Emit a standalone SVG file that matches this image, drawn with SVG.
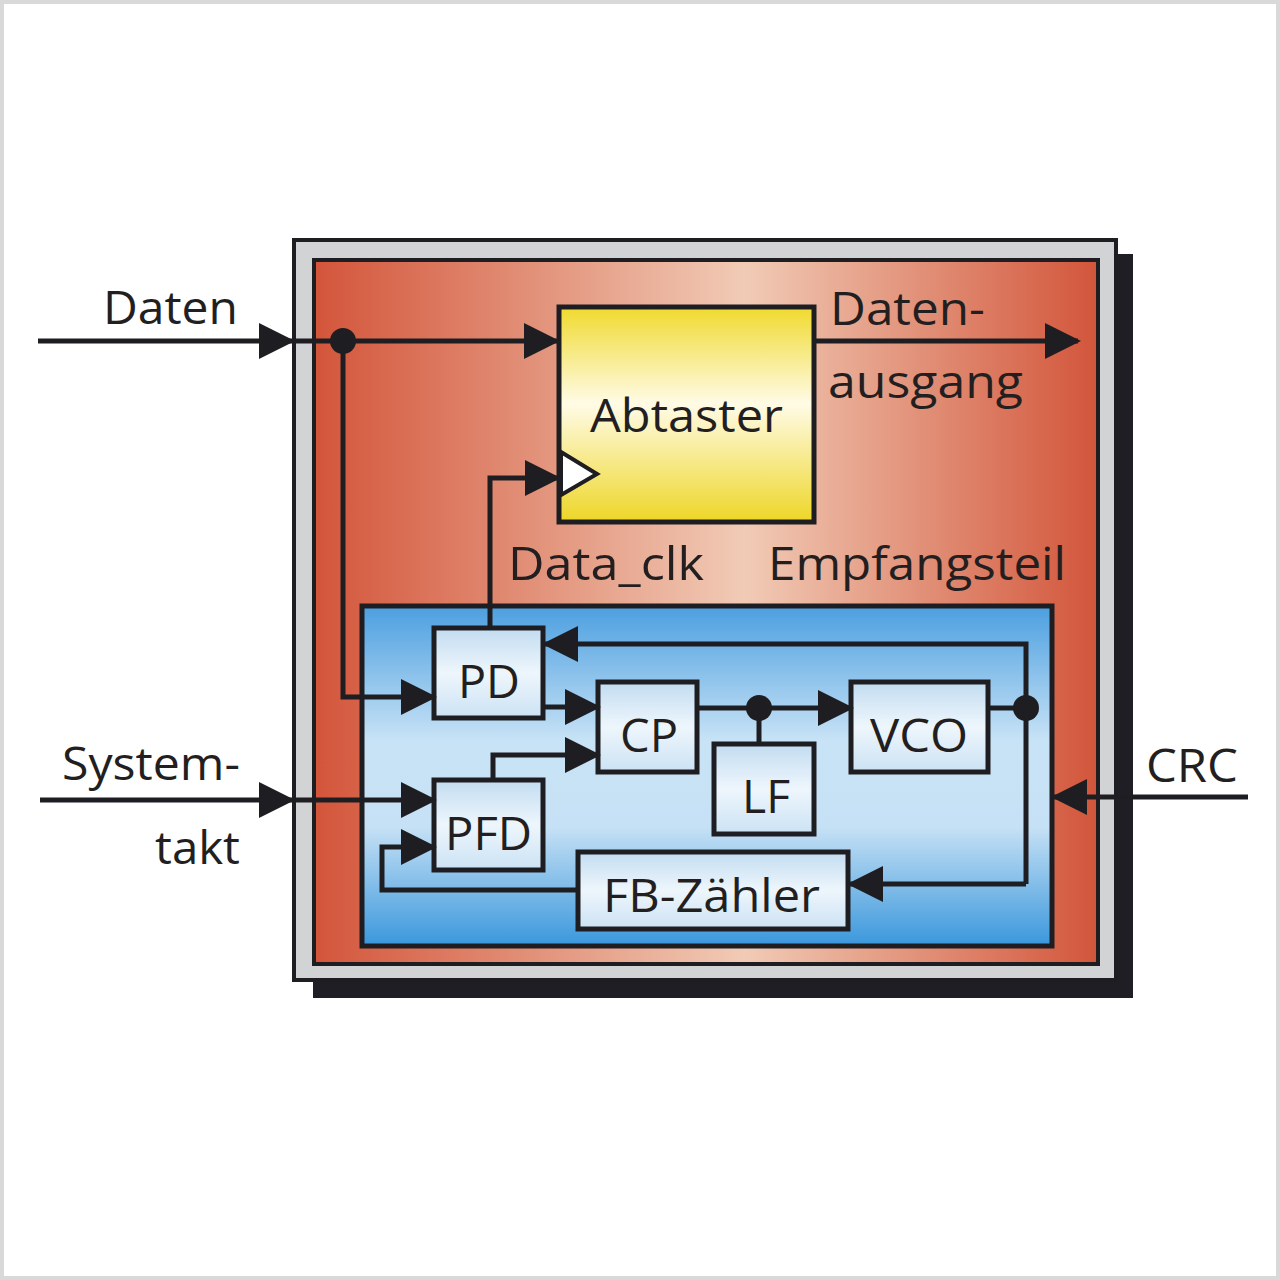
<svg xmlns="http://www.w3.org/2000/svg" width="1280" height="1280" viewBox="0 0 1280 1280">
<style>
.ln{fill:none;stroke:#1e1e22;stroke-width:5;stroke-linejoin:miter}
.box{fill:url(#gBox);stroke:#1e1e22;stroke-width:5}
.t{font-family:"Open Sans","Noto Sans",sans-serif;fill:#231f20;font-size:46px}
.tc{text-anchor:middle}
.tr{text-anchor:end}
.dot{fill:#1e1e22}
</style>
<defs>
<marker id="ah" markerUnits="userSpaceOnUse" markerWidth="36" markerHeight="36" viewBox="0 0 36 36" refX="33" refY="18" orient="auto">
<path d="M0,0 L36,18 L0,36 Z" fill="#1e1e22"/>
</marker>
<linearGradient id="gRed" gradientUnits="userSpaceOnUse" x1="314" y1="0" x2="1098" y2="0">
<stop offset="0" stop-color="#d3553a"/>
<stop offset="0.55" stop-color="#f1cbb6"/>
<stop offset="1" stop-color="#d2553a"/>
</linearGradient>
<linearGradient id="gBlue" x1="0" y1="0" x2="0" y2="1">
<stop offset="0" stop-color="#4c9fe0"/>
<stop offset="0.4" stop-color="#c9e3f6"/>
<stop offset="0.65" stop-color="#c6e1f5"/>
<stop offset="1" stop-color="#3a97dc"/>
</linearGradient>
<linearGradient id="gBox" x1="0" y1="0" x2="0" y2="1">
<stop offset="0" stop-color="#c2dcf1"/>
<stop offset="0.5" stop-color="#eef6fc"/>
<stop offset="1" stop-color="#cbe2f4"/>
</linearGradient>
<linearGradient id="gYel" x1="0" y1="0" x2="0" y2="1">
<stop offset="0" stop-color="#f0da2e"/>
<stop offset="0.45" stop-color="#fffbe6"/>
<stop offset="1" stop-color="#eed627"/>
</linearGradient>
</defs>
<rect x="2" y="2" width="1276" height="1276" fill="#ffffff" stroke="#d9d9d9" stroke-width="4"/>

<g id="frame">
<rect x="313" y="254" width="820" height="744" fill="#1e1e24"/>
<rect x="294" y="240" width="822" height="740" fill="#d2d3d5" stroke="#1e1e22" stroke-width="4"/>
</g>

<g id="empfangsteil">
<rect x="314" y="260" width="784" height="704" fill="url(#gRed)" stroke="#1e1e22" stroke-width="4"/>
<text class="t" x="768" y="580" textLength="298" lengthAdjust="spacingAndGlyphs">Empfangsteil</text>
</g>

<g id="pll">
<rect x="362" y="606" width="690" height="340" fill="url(#gBlue)" stroke="#1e1e22" stroke-width="5"/>
</g>

<g id="abtaster">
<rect x="559" y="307" width="255" height="215" fill="url(#gYel)" stroke="#1e1e22" stroke-width="5"/>
<path d="M561,452 L597,474 L561,495 Z" fill="#ffffff" stroke="#1e1e22" stroke-width="4"/>
<text class="t" x="590" y="432" textLength="193" lengthAdjust="spacingAndGlyphs">Abtaster</text>
</g>

<g id="pd">
<rect class="box" x="434" y="628" width="109" height="90"/>
<text class="t" x="458" y="698" textLength="62" lengthAdjust="spacingAndGlyphs">PD</text>
</g>
<g id="cp">
<rect class="box" x="598" y="682" width="99" height="90"/>
<text class="t" x="620" y="752" textLength="58" lengthAdjust="spacingAndGlyphs">CP</text>
</g>
<g id="pfd">
<rect class="box" x="434" y="780" width="109" height="90"/>
<text class="t" x="445" y="850" textLength="87" lengthAdjust="spacingAndGlyphs">PFD</text>
</g>
<g id="lf">
<rect class="box" x="714" y="744" width="100" height="90"/>
<text class="t" x="742" y="813" textLength="48" lengthAdjust="spacingAndGlyphs">LF</text>
</g>
<g id="vco">
<rect class="box" x="851" y="682" width="137" height="90"/>
<text class="t" x="870" y="752" textLength="98" lengthAdjust="spacingAndGlyphs">VCO</text>
</g>
<g id="fb">
<rect class="box" x="578" y="852" width="270" height="77"/>
<text class="t" x="603" y="912" textLength="217" lengthAdjust="spacingAndGlyphs">FB-Zähler</text>
</g>

<g id="connectors">
<path class="ln" d="M38,341 H292" marker-end="url(#ah)"/>
<path class="ln" d="M292,341 H557" marker-end="url(#ah)"/>
<path class="ln" d="M343,341 V697 H434" marker-end="url(#ah)"/>
<path class="ln" d="M814,341 H1078" marker-end="url(#ah)"/>
<path class="ln" d="M490,628 V478 H558" marker-end="url(#ah)"/>
<path class="ln" d="M543,707 H598" marker-end="url(#ah)"/>
<path class="ln" d="M493,780 V755 H598" marker-end="url(#ah)"/>
<path class="ln" d="M40,800 H292" marker-end="url(#ah)"/>
<path class="ln" d="M292,800 H434" marker-end="url(#ah)"/>
<path class="ln" d="M578,890 H382 V847 H434" marker-end="url(#ah)"/>
<path class="ln" d="M697,708 H851" marker-end="url(#ah)"/>
<path class="ln" d="M759,708 V744"/>
<path class="ln" d="M988,708 H1026"/>
<path class="ln" d="M1026,884 V644 H545" marker-end="url(#ah)"/>
<path class="ln" d="M1026,884 H850" marker-end="url(#ah)"/>
<path class="ln" d="M1248,797 H1054" marker-end="url(#ah)"/>
<circle class="dot" cx="343" cy="341" r="13"/>
<circle class="dot" cx="759" cy="708" r="13"/>
<circle class="dot" cx="1026" cy="708" r="13"/>
</g>

<g id="labels">
<text class="t" x="103" y="324" textLength="135" lengthAdjust="spacingAndGlyphs">Daten</text>
<text class="t" x="830" y="325" textLength="155" lengthAdjust="spacingAndGlyphs">Daten-</text>
<text class="t" x="828" y="398" textLength="195" lengthAdjust="spacingAndGlyphs">ausgang</text>
<text class="t" x="508" y="580" textLength="196" lengthAdjust="spacingAndGlyphs">Data_clk</text>
<text class="t" x="62" y="780" textLength="178" lengthAdjust="spacingAndGlyphs">System-</text>
<text class="t" x="155" y="864" textLength="85" lengthAdjust="spacingAndGlyphs">takt</text>
<text class="t" x="1146" y="782" textLength="92" lengthAdjust="spacingAndGlyphs">CRC</text>
</g>
</svg>
